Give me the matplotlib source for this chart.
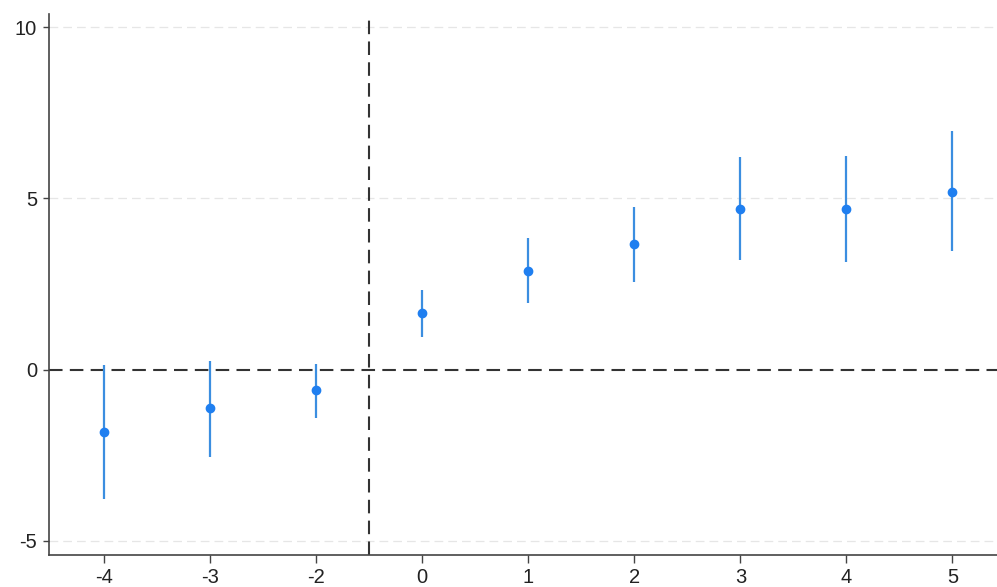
import numpy as np
import matplotlib.pyplot as plt

plt.rcParams['font.family'] = ['Liberation Sans', 'DejaVu Sans']
plt.rcParams['axes.unicode_minus'] = False

# event time periods (reference period -1 omitted)
periods = ['-4', '-3', '-2', '0', '1', '2', '3', '4', '5']
coef = [-1.81, -1.13, -0.60, 1.65, 2.87, 3.66, 4.68, 4.69, 5.20]
ci_low = [-3.77, -2.55, -1.40, 0.95, 1.94, 2.57, 3.21, 3.14, 3.45]
ci_high = [0.14, 0.26, 0.17, 2.33, 3.84, 4.76, 6.20, 6.25, 6.97]

x = np.arange(len(periods))

fig = plt.figure(figsize=(9.97, 5.87), dpi=100)
ax = fig.add_axes([0.0491, 0.0545, 0.9509, 0.9215])

# light dashed grid
for yv in [-5, 5, 10]:
    ax.axhline(yv, color='#e6e6e6', linestyle=(0, (7, 4)), linewidth=0.9, zorder=0)

# reference lines
ax.axhline(0, color='#333333', linestyle=(0, (6.5, 3.5)), linewidth=1.5, zorder=1)
ax.axvline(2.5, color='#333333', linestyle=(0, (6.5, 3.5)), linewidth=1.5, zorder=1)

# confidence intervals and point estimates
ax.vlines(x, ci_low, ci_high, color='#3b8ee0', linewidth=1.6, zorder=2)
ax.plot(x, coef, 'o', color='#1f7ff0', markersize=6, zorder=3)

ax.set_xticks(x)
ax.set_xticklabels(periods)
ax.set_yticks([-5, 0, 5, 10])
ax.set_xlim(-0.52, 8.42)
ax.set_ylim(-5.41, 10.38)

for s in ['top', 'right']:
    ax.spines[s].set_visible(False)
for s in ['left', 'bottom']:
    ax.spines[s].set_color('#444444')
    ax.spines[s].set_linewidth(1.2)
ax.tick_params(axis='both', labelsize=14.5, width=1.0, color='#444444', labelcolor='#222222')
ax.tick_params(axis='x', length=6, pad=3.5)
ax.tick_params(axis='y', length=4.5, pad=4)

fig.savefig('out.png', dpi=100)
